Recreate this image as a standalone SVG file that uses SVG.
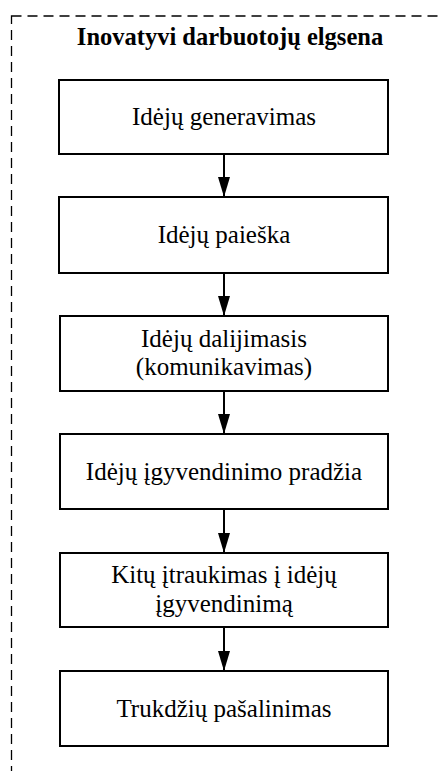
<svg xmlns="http://www.w3.org/2000/svg" width="441" height="771" viewBox="0 0 441 771">
<style>
.box{fill:#fff;stroke:#000;stroke-width:2}
.t{font-family:"Liberation Serif","Times New Roman",serif;font-size:25px;fill:#000;text-anchor:middle}
.title{font-family:"Liberation Serif","Times New Roman",serif;font-size:24.5px;font-weight:bold;fill:#000;text-anchor:middle}
.conn line{stroke:#000;stroke-width:2}
</style>
<defs>
<marker id="arrow" viewBox="0 0 20 12" refX="20" refY="6" markerWidth="20" markerHeight="12" markerUnits="userSpaceOnUse" orient="auto">
<path d="M0,0 L20,6 L0,12 Z" fill="#000"/>
</marker>
</defs>
<rect x="11.5" y="16" width="460" height="800" fill="none" stroke="#000" stroke-width="1.3" stroke-dasharray="10,6"/>
<text class="title" x="230" y="45">Inovatyvi darbuotojų elgsena</text>
<g id="n1"><rect class="box" x="59" y="80" width="329" height="74"/><text class="t" x="224" y="125">Idėjų generavimas</text></g>
<g id="n2"><rect class="box" x="59" y="197" width="329" height="76"/><text class="t" x="224" y="243">Idėjų paieška</text></g>
<g id="n3"><rect class="box" x="60" y="316" width="328" height="75"/><text class="t" x="224" y="347">Idėjų dalijimasis</text><text class="t" x="224" y="375">(komunikavimas)</text></g>
<g id="n4"><rect class="box" x="60" y="434" width="328" height="75"/><text class="t" x="224" y="480">Idėjų įgyvendinimo pradžia</text></g>
<g id="n5"><rect class="box" x="60" y="553" width="328" height="74"/><text class="t" x="224" y="583">Kitų įtraukimas į idėjų</text><text class="t" x="224" y="612">įgyvendinimą</text></g>
<g id="n6"><rect class="box" x="60" y="671" width="328" height="75"/><text class="t" x="224" y="717">Trukdžių pašalinimas</text></g>
<g class="conn">
<line x1="224" y1="154" x2="224" y2="197" marker-end="url(#arrow)"/>
<line x1="224" y1="273" x2="224" y2="316" marker-end="url(#arrow)"/>
<line x1="224" y1="391" x2="224" y2="434" marker-end="url(#arrow)"/>
<line x1="224" y1="509" x2="224" y2="553" marker-end="url(#arrow)"/>
<line x1="224" y1="627" x2="224" y2="671" marker-end="url(#arrow)"/>
</g>
</svg>
